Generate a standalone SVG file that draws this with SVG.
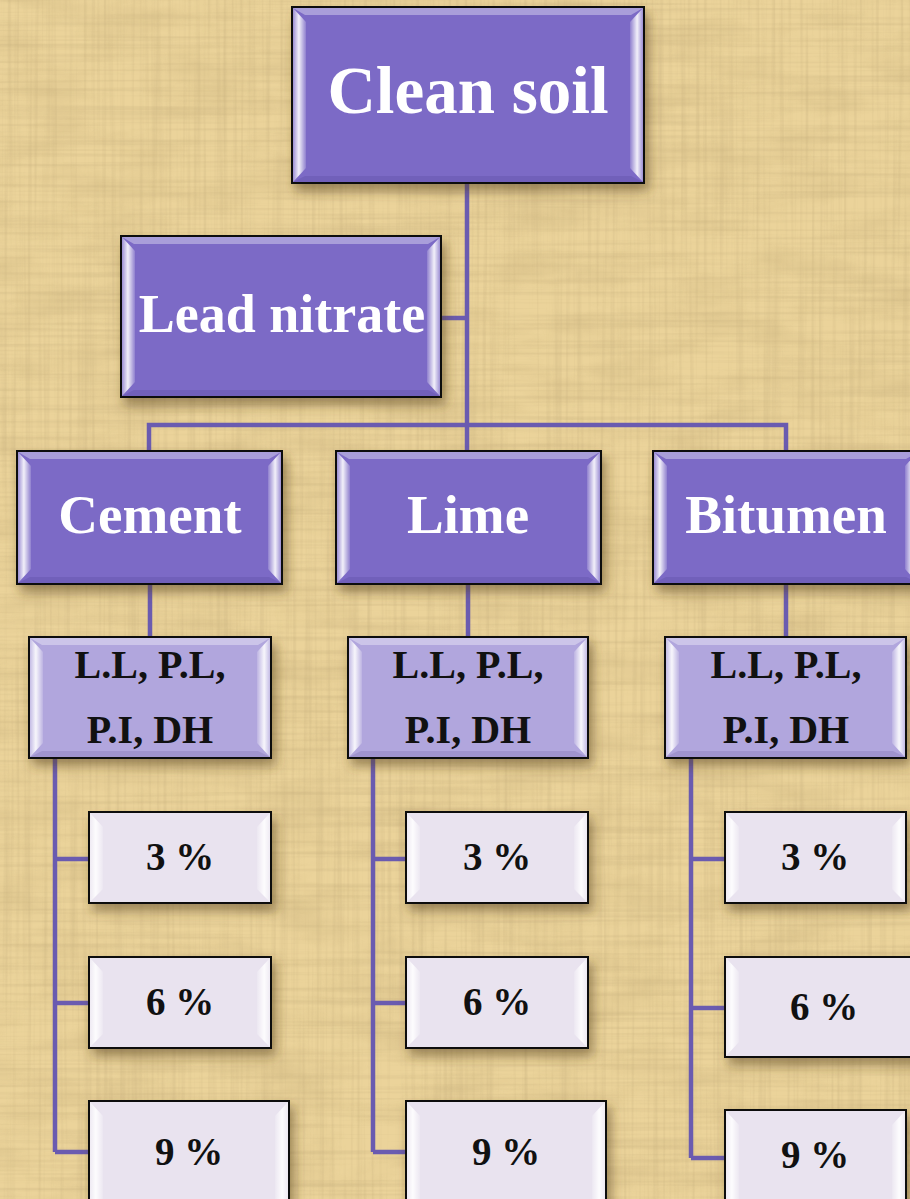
<svg xmlns="http://www.w3.org/2000/svg" width="910" height="1199" viewBox="0 0 910 1199">
<defs>
<filter id="paper" x="0" y="0" width="100%" height="100%">
<feTurbulence type="fractalNoise" baseFrequency="0.012 0.035" numOctaves="4" seed="7"/>
<feColorMatrix type="matrix" values="0 0 0 0 0.62  0 0 0 0 0.47  0 0 0 0 0.22  0 0 0 1.4 -0.55"/>
</filter>
<filter id="fibH" x="0" y="0" width="100%" height="100%">
<feTurbulence type="fractalNoise" baseFrequency="0.004 0.25" numOctaves="2" seed="11"/>
<feColorMatrix type="matrix" values="0 0 0 0 0.55  0 0 0 0 0.42  0 0 0 0 0.2  0 0 0 2.2 -1.0"/>
</filter>
<filter id="fibV" x="0" y="0" width="100%" height="100%">
<feTurbulence type="fractalNoise" baseFrequency="0.25 0.004" numOctaves="2" seed="5"/>
<feColorMatrix type="matrix" values="0 0 0 0 0.55  0 0 0 0 0.42  0 0 0 0 0.2  0 0 0 2.2 -1.0"/>
</filter>
<filter id="sh" x="-10%" y="-10%" width="130%" height="140%">
<feDropShadow dx="4" dy="7" stdDeviation="6" flood-color="#5a4520" flood-opacity="0.55"/>
</filter>
<linearGradient id="sideL" x1="0" y1="0" x2="1" y2="0">
<stop offset="0" stop-color="#ffffff" stop-opacity="0.25"/>
<stop offset="0.45" stop-color="#ffffff" stop-opacity="0.9"/>
<stop offset="1" stop-color="#ffffff" stop-opacity="0.15"/>
</linearGradient>
<linearGradient id="sideR" x1="1" y1="0" x2="0" y2="0">
<stop offset="0" stop-color="#ffffff" stop-opacity="0.25"/>
<stop offset="0.45" stop-color="#ffffff" stop-opacity="0.9"/>
<stop offset="1" stop-color="#ffffff" stop-opacity="0.15"/>
</linearGradient>
</defs>
<style>
.dark{fill:#7b6bc6;stroke:#111;stroke-width:2}
.mid{fill:#b1a6dd;stroke:#111;stroke-width:2}
.light{fill:#e9e3ef;stroke:#111;stroke-width:2}
.top{fill:#ffffff;fill-opacity:0.35}
.bot{fill:#2a1a60;fill-opacity:0.12}
.sl{fill:url(#sideL)}
.sr{fill:url(#sideR)}
.wt{font-family:"Liberation Serif","Times New Roman",serif;font-weight:bold;fill:#ffffff;text-anchor:middle}
.bt{font-family:"Liberation Serif","Times New Roman",serif;font-weight:bold;fill:#111111;text-anchor:middle}
.con{fill:none;stroke:#6a5bb0;stroke-width:4.5}
</style>
<rect width="910" height="1199" fill="#ebd39a"/>
<rect width="910" height="1199" filter="url(#paper)" opacity="0.6"/>
<rect width="910" height="1199" filter="url(#fibH)" opacity="0.35"/>
<rect width="910" height="1199" filter="url(#fibV)" opacity="0.35"/>

<g id="connectors">
<path class="con" d="M467 183V425M441 318H467M149 451V425H786V451M467 425V451"/>
<path class="con" d="M150 584V637M468 584V637M786 584V637"/>
<path class="con" d="M55 758V1152M55 859H89M55 1003H89M55 1152H89"/>
<path class="con" d="M373 758V1152M373 859H406M373 1003H406M373 1152H406"/>
<path class="con" d="M691 758V1158M691 859H725M691 1008H725M691 1158H725"/>
</g>

<g id="clean-soil">
<rect class="dark" x="292" y="7" width="352" height="176" filter="url(#sh)"/>
<polygon class="top" points="293,8 643,8 631,15 305,15"/>
<polygon class="bot" points="293,182 643,182 631,176 305,176"/>
<polygon class="sl" points="293,8 306,22 306,168 293,182"/>
<polygon class="sr" points="643,8 630,22 630,168 643,182"/>
<text class="wt" x="468" y="113" font-size="67">Clean soil</text>
</g>

<g id="lead-nitrate">
<rect class="dark" x="121" y="236" width="320" height="161" filter="url(#sh)"/>
<polygon class="top" points="122,237 440,237 428,244 134,244"/>
<polygon class="bot" points="122,396 440,396 428,390 134,390"/>
<polygon class="sl" points="122,237 135,251 135,382 122,396"/>
<polygon class="sr" points="440,237 427,251 427,382 440,396"/>
<text class="wt" x="282" y="332" font-size="54">Lead nitrate</text>
</g>

<g id="cement">
<rect class="dark" x="17" y="451" width="265" height="133" filter="url(#sh)"/>
<polygon class="top" points="18,452 281,452 269,459 30,459"/>
<polygon class="bot" points="18,583 281,583 269,577 30,577"/>
<polygon class="sl" points="18,452 31,466 31,569 18,583"/>
<polygon class="sr" points="281,452 268,466 268,569 281,583"/>
<text class="wt" x="150" y="533" font-size="55">Cement</text>
</g>

<g id="lime">
<rect class="dark" x="336" y="451" width="265" height="133" filter="url(#sh)"/>
<polygon class="top" points="337,452 600,452 588,459 349,459"/>
<polygon class="bot" points="337,583 600,583 588,577 349,577"/>
<polygon class="sl" points="337,452 350,466 350,569 337,583"/>
<polygon class="sr" points="600,452 587,466 587,569 600,583"/>
<text class="wt" x="468" y="533" font-size="55">Lime</text>
</g>

<g id="bitumen">
<rect class="dark" x="653" y="451" width="266" height="133" filter="url(#sh)"/>
<polygon class="top" points="654,452 918,452 906,459 666,459"/>
<polygon class="bot" points="654,583 918,583 906,577 666,577"/>
<polygon class="sl" points="654,452 667,466 667,569 654,583"/>
<polygon class="sr" points="918,452 905,466 905,569 918,583"/>
<text class="wt" x="786" y="533" font-size="55">Bitumen</text>
</g>

<g id="props-cement">
<rect class="mid" x="29" y="637" width="242" height="121" filter="url(#sh)"/>
<polygon class="top" points="30,638 270,638 258,645 42,645"/>
<polygon class="bot" points="30,757 270,757 258,751 42,751"/>
<polygon class="sl" points="30,638 43,652 43,743 30,757"/>
<polygon class="sr" points="270,638 257,652 257,743 270,757"/>
<text class="bt" x="150" y="678" font-size="40">L.L, P.L,</text>
<text class="bt" x="150" y="743" font-size="40">P.I, DH</text>
</g>

<g id="props-lime">
<rect class="mid" x="348" y="637" width="240" height="121" filter="url(#sh)"/>
<polygon class="top" points="349,638 587,638 575,645 361,645"/>
<polygon class="bot" points="349,757 587,757 575,751 361,751"/>
<polygon class="sl" points="349,638 362,652 362,743 349,757"/>
<polygon class="sr" points="587,638 574,652 574,743 587,757"/>
<text class="bt" x="468" y="678" font-size="40">L.L, P.L,</text>
<text class="bt" x="468" y="743" font-size="40">P.I, DH</text>
</g>

<g id="props-bitumen">
<rect class="mid" x="665" y="637" width="241" height="121" filter="url(#sh)"/>
<polygon class="top" points="666,638 905,638 893,645 678,645"/>
<polygon class="bot" points="666,757 905,757 893,751 678,751"/>
<polygon class="sl" points="666,638 679,652 679,743 666,757"/>
<polygon class="sr" points="905,638 892,652 892,743 905,757"/>
<text class="bt" x="786" y="678" font-size="40">L.L, P.L,</text>
<text class="bt" x="786" y="743" font-size="40">P.I, DH</text>
</g>

<g id="cement-3">
<rect class="light" x="89" y="812" width="182" height="91" filter="url(#sh)"/>
<polygon class="sl" points="90,813 103,827 103,889 90,902"/>
<polygon class="sr" points="270,813 257,827 257,889 270,902"/>
<text class="bt" x="180" y="870" font-size="39">3 %</text>
</g>
<g id="cement-6">
<rect class="light" x="89" y="957" width="182" height="91" filter="url(#sh)"/>
<polygon class="sl" points="90,958 103,972 103,1034 90,1047"/>
<polygon class="sr" points="270,958 257,972 257,1034 270,1047"/>
<text class="bt" x="180" y="1015" font-size="39">6 %</text>
</g>
<g id="cement-9">
<rect class="light" x="89" y="1101" width="200" height="110" filter="url(#sh)"/>
<polygon class="sl" points="90,1102 103,1116 103,1210 90,1210"/>
<polygon class="sr" points="288,1102 275,1116 275,1210 288,1210"/>
<text class="bt" x="189" y="1165" font-size="39">9 %</text>
</g>

<g id="lime-3">
<rect class="light" x="406" y="812" width="182" height="91" filter="url(#sh)"/>
<polygon class="sl" points="407,813 420,827 420,889 407,902"/>
<polygon class="sr" points="587,813 574,827 574,889 587,902"/>
<text class="bt" x="497" y="870" font-size="39">3 %</text>
</g>
<g id="lime-6">
<rect class="light" x="406" y="957" width="182" height="91" filter="url(#sh)"/>
<polygon class="sl" points="407,958 420,972 420,1034 407,1047"/>
<polygon class="sr" points="587,958 574,972 574,1034 587,1047"/>
<text class="bt" x="497" y="1015" font-size="39">6 %</text>
</g>
<g id="lime-9">
<rect class="light" x="406" y="1101" width="200" height="110" filter="url(#sh)"/>
<polygon class="sl" points="407,1102 420,1116 420,1210 407,1210"/>
<polygon class="sr" points="605,1102 592,1116 592,1210 605,1210"/>
<text class="bt" x="506" y="1165" font-size="39">9 %</text>
</g>

<g id="bitumen-3">
<rect class="light" x="725" y="812" width="181" height="91" filter="url(#sh)"/>
<polygon class="sl" points="726,813 739,827 739,889 726,902"/>
<polygon class="sr" points="905,813 892,827 892,889 905,902"/>
<text class="bt" x="815" y="870" font-size="39">3 %</text>
</g>
<g id="bitumen-6">
<rect class="light" x="725" y="957" width="198" height="100" filter="url(#sh)"/>
<polygon class="sl" points="726,958 739,972 739,1042 726,1056"/>
<text class="bt" x="824" y="1020" font-size="39">6 %</text>
</g>
<g id="bitumen-9">
<rect class="light" x="725" y="1110" width="181" height="100" filter="url(#sh)"/>
<polygon class="sl" points="726,1111 739,1125 739,1210 726,1210"/>
<polygon class="sr" points="905,1111 892,1125 892,1210 905,1210"/>
<text class="bt" x="815" y="1168" font-size="39">9 %</text>
</g>
</svg>
